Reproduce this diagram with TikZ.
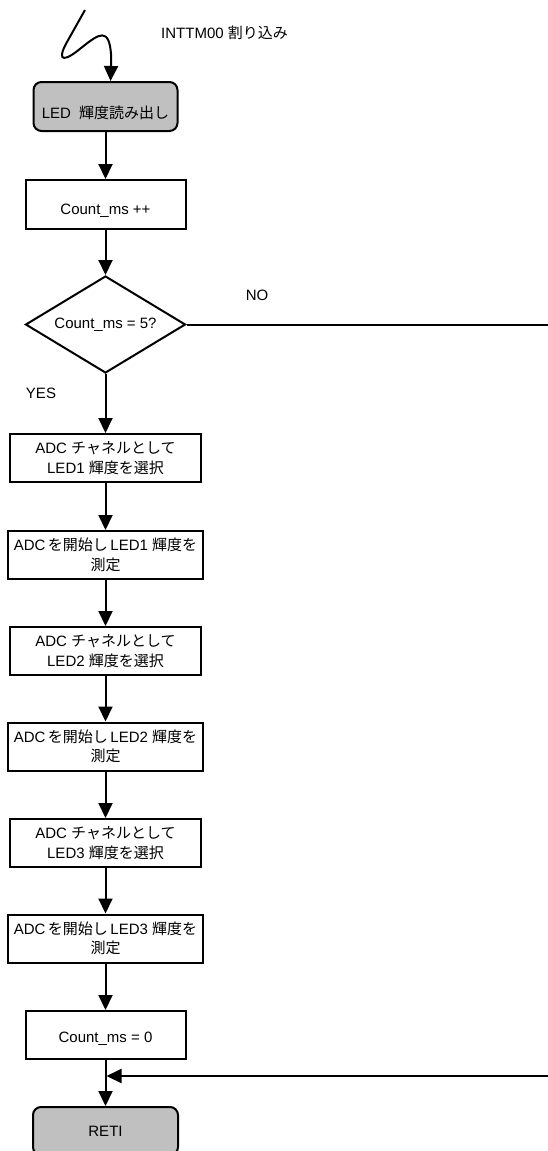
\documentclass[tikz,border=0pt]{standalone}
\usepackage{fontspec}
\setmainfont{Liberation Sans}
\newfontfamily\jp{Noto Sans CJK JP}
\usetikzlibrary{arrows.meta,shapes.geometric}
\definecolor{termgray}{RGB}{192,192,192}
\begin{document}
\begin{tikzpicture}[x=1pt,y=-1pt,
  every node/.style={font=\fontsize{15}{19.5}\selectfont, inner sep=0pt},
  line/.style={line width=2pt},
  flow/.style={line, -{Triangle[length=15pt,width=14pt]}},
  proc/.style={draw, line width=2pt, minimum height=48pt, align=center},
  term/.style={proc, rounded corners=8pt, fill=termgray},
  decision/.style={draw, diamond, line width=2pt, aspect=1.65,
    minimum width=160pt, minimum height=97pt},
  lowtext/.style={text height=#1, text depth=2pt}]
\useasboundingbox (0,0) rectangle (547,1151);

% terminals, process boxes and the decision
\node[term, minimum width=144pt, minimum height=49pt, lowtext=25pt] (read) at (105.5,106.5)
  {LED\hspace{0.55em}{\jp 輝度読み出し}};
\node[proc, minimum width=160pt, minimum height=49pt, lowtext=22pt] (inc) at (105.5,204.5)
  {Count\_ms ++};
\node[decision] (cmp) at (105.5,324.5) {Count\_ms = 5?};
\node[proc, minimum width=191pt] (sel1) at (105.5,458)
  {ADC {\jp チャネルとして}\\LED1 {\jp 輝度を選択}};
\node[proc, minimum width=195pt] (meas1) at (105.5,555)
  {ADC\,{\jp を開始し}\,LED1 {\jp 輝度を}\\{\jp 測定}};
\node[proc, minimum width=191pt] (sel2) at (105.5,651)
  {ADC {\jp チャネルとして}\\LED2 {\jp 輝度を選択}};
\node[proc, minimum width=195pt] (meas2) at (105.5,746.5)
  {ADC\,{\jp を開始し}\,LED2 {\jp 輝度を}\\{\jp 測定}};
\node[proc, minimum width=191pt] (sel3) at (105.5,843)
  {ADC {\jp チャネルとして}\\LED3 {\jp 輝度を選択}};
\node[proc, minimum width=195pt] (meas3) at (105.5,938.5)
  {ADC\,{\jp を開始し}\,LED3 {\jp 輝度を}\\{\jp 測定}};
\node[proc, minimum width=160pt, lowtext=16pt] (clr) at (105.5,1035)
  {Count\_ms = 0};
\node[term, minimum width=145pt] (reti) at (105.5,1131) {RETI};

% labels
\node[anchor=west] (src) at (161,33) {INTTM00 {\jp 割り込み}};
\node (no) at (257,295) {NO};
\node (yes) at (41,393) {YES};

% interrupt entry
\coordinate (irq) at (85,10);
\draw[flow] (irq) -- (67,42) .. controls (58,58) and (61,63) .. (76,52)
  .. controls (94,38) and (106,26) .. (110,46)
  .. controls (112,57) and (111,66) .. ([xshift=5pt]read.north);

% main flow
\draw[flow] (read.south) -- (inc.north);
\draw[flow] (inc.south) -- (cmp.north);
\draw[flow] (cmp.south) -- (sel1.north);
\draw[flow] (sel1.south) -- (meas1.north);
\draw[flow] (meas1.south) -- (sel2.north);
\draw[flow] (sel2.south) -- (meas2.north);
\draw[flow] (meas2.south) -- (sel3.north);
\draw[flow] (sel3.south) -- (meas3.north);
\draw[flow] (meas3.south) -- (clr.north);
\draw[flow] (clr.south) -- (reti.north);

% NO branch leaves to the right and returns above RETI
\coordinate (noout) at (549,324.5);
\draw[line] (cmp.east) -- (noout);
\coordinate (noback) at (549,1076);
\coordinate (join) at (clr.south |- noback);
\draw[flow, shorten >=1pt] (noback) -- (join);
\end{tikzpicture}
\end{document}
